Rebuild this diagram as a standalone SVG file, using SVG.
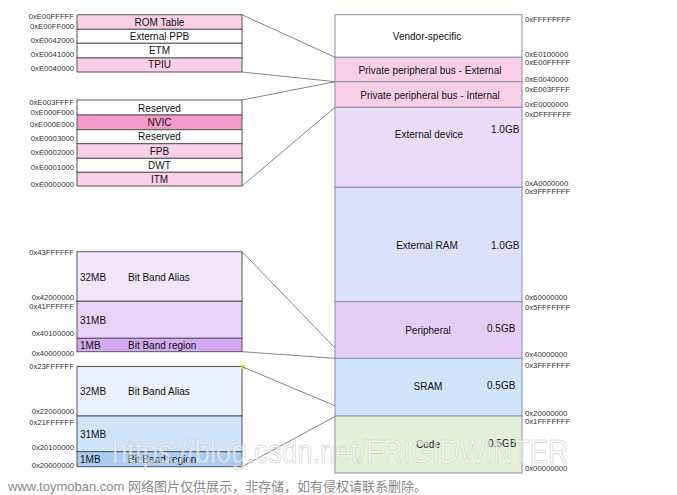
<svg xmlns="http://www.w3.org/2000/svg" width="677" height="495" viewBox="0 0 677 495">
<style>
.addr{font-family:"Liberation Sans",Arial,sans-serif;font-size:7.7px;fill:#333}
.al{text-anchor:end}
.lbl{font-family:"Liberation Sans",Arial,sans-serif;font-size:10px;fill:#111}
.c{text-anchor:middle}
.cell{stroke:#555;stroke-width:1}
.rcell{stroke:#8a8ea8;stroke-width:1}
.conn{stroke:#666;stroke-width:0.8;fill:none}
</style>
<rect width="677" height="495" fill="#fff"/>

<g id="ppb-external-detail">
<rect class="cell" x="77" y="14.7" width="165" height="14.6" fill="#f9cfe6"/>
<rect class="cell" x="77" y="29.3" width="165" height="14" fill="#fff"/>
<rect class="cell" x="77" y="43.3" width="165" height="14.7" fill="#fff"/>
<rect class="cell" x="77" y="58" width="165" height="14" fill="#f9cfe6"/>
<text class="lbl c" x="159.5" y="25.5">ROM Table</text>
<text class="lbl c" x="159.5" y="39.5">External PPB</text>
<text class="lbl c" x="159.5" y="54">ETM</text>
<text class="lbl c" x="159.5" y="68">TPIU</text>
<text class="addr al" x="74" y="18.5">0xE00FFFFF</text>
<text class="addr al" x="74" y="29">0xE00FF000</text>
<text class="addr al" x="74" y="43">0xE0042000</text>
<text class="addr al" x="74" y="56.5">0xE0041000</text>
<text class="addr al" x="74" y="71">0xE0040000</text>
</g>

<g id="ppb-internal-detail">
<rect class="cell" x="77" y="100" width="165" height="15" fill="#fff"/>
<rect class="cell" x="77" y="115" width="165" height="14.7" fill="#f29ccc"/>
<rect class="cell" x="77" y="129.7" width="165" height="14" fill="#fff"/>
<rect class="cell" x="77" y="143.7" width="165" height="14.6" fill="#f9d0e7"/>
<rect class="cell" x="77" y="158.3" width="165" height="14" fill="#fff"/>
<rect class="cell" x="77" y="172.3" width="165" height="13.7" fill="#f9d0e7"/>
<text class="lbl c" x="159.5" y="111.5">Reserved</text>
<text class="lbl c" x="159.5" y="126">NVIC</text>
<text class="lbl c" x="159.5" y="140">Reserved</text>
<text class="lbl c" x="159.5" y="155">FPB</text>
<text class="lbl c" x="159.5" y="169">DWT</text>
<text class="lbl c" x="159.5" y="183">ITM</text>
<text class="addr al" x="74" y="104.5">0xE003FFFF</text>
<text class="addr al" x="74" y="114.5">0xE000F000</text>
<text class="addr al" x="74" y="127">0xE000E000</text>
<text class="addr al" x="74" y="141">0xE0003000</text>
<text class="addr al" x="74" y="155">0xE0002000</text>
<text class="addr al" x="74" y="169.5">0xE0001000</text>
<text class="addr al" x="74" y="187">0xE0000000</text>
</g>

<g id="peripheral-bitband">
<rect class="cell" x="77" y="251.7" width="165" height="49.6" fill="#f3e6fb" stroke="#777"/>
<rect class="cell" x="77" y="301.3" width="165" height="37" fill="#e8d2f8" stroke="#777"/>
<rect class="cell" x="77" y="338.3" width="165" height="13.4" fill="#d4a9f1" stroke="#777"/>
<text class="lbl" x="80" y="280.5">32MB</text>
<text class="lbl" x="128" y="280.5">Bit Band Alias</text>
<text class="lbl" x="80" y="323.5">31MB</text>
<text class="lbl" x="80" y="348.5">1MB</text>
<text class="lbl" x="128" y="348.5">Bit Band region</text>
<text class="addr al" x="74" y="255">0x43FFFFFF</text>
<text class="addr al" x="74" y="300">0x42000000</text>
<text class="addr al" x="74" y="309">0x41FFFFFF</text>
<text class="addr al" x="74" y="336">0x40100000</text>
<text class="addr al" x="74" y="355.5">0x40000000</text>
</g>

<g id="sram-bitband">
<rect class="cell" x="77" y="366.5" width="165" height="49.5" fill="#eaf2fd" stroke="#777"/>
<rect class="cell" x="77" y="416" width="165" height="35.7" fill="#cfe3fb" stroke="#777"/>
<rect class="cell" x="77" y="451.7" width="165" height="15" fill="#a9cdf4" stroke="#777"/>
<text class="lbl" x="80" y="395">32MB</text>
<text class="lbl" x="128" y="395">Bit Band Alias</text>
<text class="lbl" x="80" y="438">31MB</text>
<text class="lbl" x="80" y="462.5">1MB</text>
<text class="lbl" x="128" y="462.5">Bit Band region</text>
<text class="addr al" x="74" y="369">0x23FFFFFF</text>
<text class="addr al" x="74" y="414">0x22000000</text>
<text class="addr al" x="74" y="425">0x21FFFFFF</text>
<text class="addr al" x="74" y="450">0x20100000</text>
<text class="addr al" x="74" y="468">0x20000000</text>
<rect x="241" y="365" width="4" height="4" fill="#f2e21a"/>
</g>

<g id="memory-map">
<rect class="rcell" x="335" y="14.7" width="187" height="42.6" fill="#fff" stroke="#777"/>
<rect class="rcell" x="335" y="57.3" width="187" height="24.4" fill="#f9cfe6"/>
<rect class="rcell" x="335" y="81.7" width="187" height="25.6" fill="#f9cfe6"/>
<rect class="rcell" x="335" y="107.3" width="187" height="80" fill="#eadcf8"/>
<rect class="rcell" x="335" y="187.3" width="187" height="114.4" fill="#dde0fb"/>
<rect class="rcell" x="335" y="301.7" width="187" height="56.6" fill="#e6cdf6"/>
<rect class="rcell" x="335" y="358.3" width="187" height="57.7" fill="#cfe3fb"/>
<rect class="rcell" x="335" y="416" width="187" height="57" fill="#e6f0d8"/>
<text class="lbl c" x="427" y="39.5">Vendor-specific</text>
<text class="lbl c" x="430" y="74">Private peripheral bus - External</text>
<text class="lbl c" x="430" y="98.5">Private peripheral bus - Internal</text>
<text class="lbl c" x="429" y="137.5">External device</text>
<text class="lbl" x="491" y="132.5">1.0GB</text>
<text class="lbl c" x="427" y="249">External RAM</text>
<text class="lbl" x="491" y="249">1.0GB</text>
<text class="lbl c" x="428" y="333.5">Peripheral</text>
<text class="lbl" x="487" y="331.5">0.5GB</text>
<text class="lbl c" x="428" y="390">SRAM</text>
<text class="lbl" x="487" y="388.5">0.5GB</text>
<text class="lbl c" x="428" y="448">Code</text>
<text class="lbl" x="488" y="446.5">0.5GB</text>
<text class="addr" x="525" y="22">0xFFFFFFFF</text>
<text class="addr" x="525" y="57">0xE0100000</text>
<text class="addr" x="525" y="64.5">0xE00FFFFF</text>
<text class="addr" x="525" y="82">0xE0040000</text>
<text class="addr" x="525" y="92">0xE003FFFF</text>
<text class="addr" x="525" y="107">0xE0000000</text>
<text class="addr" x="525" y="116.5">0xDFFFFFFF</text>
<text class="addr" x="525" y="185.5">0xA0000000</text>
<text class="addr" x="525" y="193.5">0x9FFFFFFF</text>
<text class="addr" x="525" y="300">0x60000000</text>
<text class="addr" x="525" y="310">0x5FFFFFFF</text>
<text class="addr" x="525" y="357">0x40000000</text>
<text class="addr" x="525" y="368">0x3FFFFFFF</text>
<text class="addr" x="525" y="415.5">0x20000000</text>
<text class="addr" x="525" y="424">0x1FFFFFFF</text>
<text class="addr" x="525" y="471">0x00000000</text>
</g>

<g id="connectors">
<line class="conn" x1="242" y1="14.7" x2="335" y2="57.3"/>
<line class="conn" x1="242" y1="72" x2="335" y2="81.7"/>
<line class="conn" x1="242" y1="100" x2="335" y2="81.7"/>
<line class="conn" x1="242" y1="186" x2="335" y2="107.3"/>
<line class="conn" x1="242" y1="251.7" x2="335" y2="348"/>
<line class="conn" x1="242" y1="351.7" x2="335" y2="358.3"/>
<line class="conn" x1="242" y1="366.7" x2="335" y2="405.7"/>
<line class="conn" x1="242" y1="466.7" x2="335" y2="416.5"/>
</g>

<text x="112" y="463" font-family="Liberation Sans,Arial,sans-serif" font-size="34" textLength="456" lengthAdjust="spacingAndGlyphs" fill="#fff" fill-opacity="0.55" stroke="#c8c8c8" stroke-width="0.6">https://blog.csdn.net/FRIGIDWINTER</text>
<text x="8" y="491" font-family="Liberation Sans,'Noto Sans CJK SC',sans-serif" font-size="13" fill="#8a8a8a">www.toymoban.com 网络图片仅供展示，非存储，如有侵权请联系删除。</text>
</svg>
